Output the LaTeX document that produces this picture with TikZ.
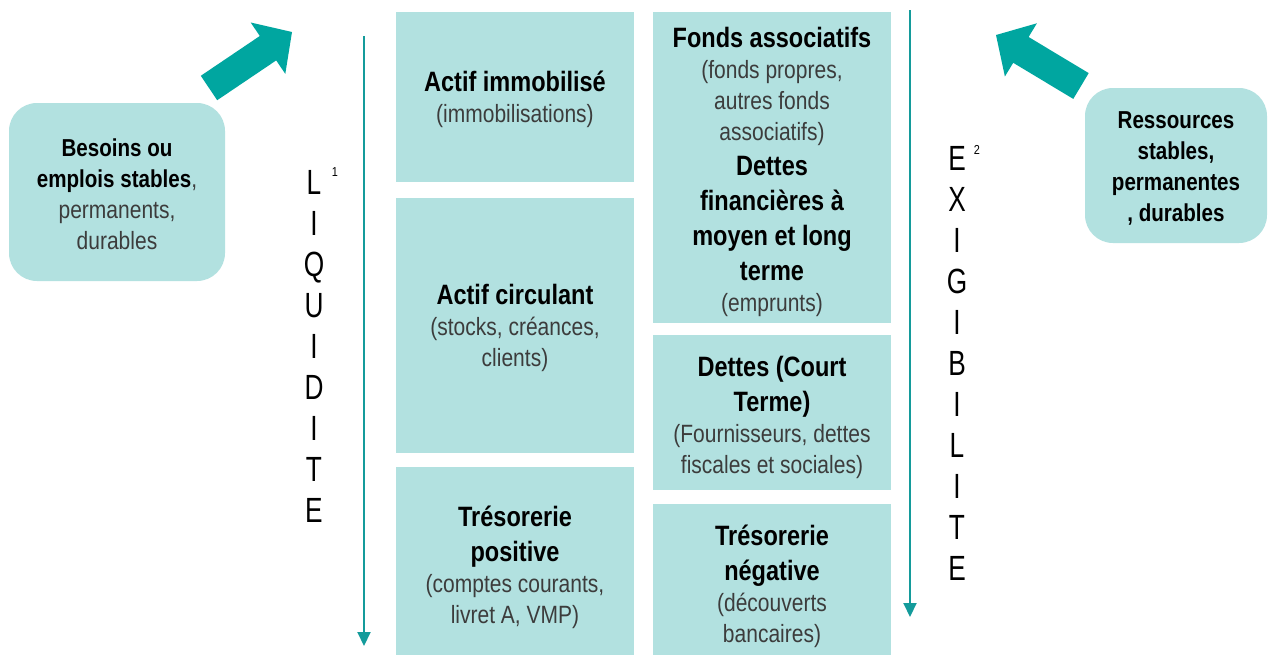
\documentclass[tikz,border=0pt]{standalone}
\usepackage{fontspec}
\setmainfont{Liberation Sans}
\newfontfamily\cond[FakeStretch=0.84]{Liberation Sans}
\newfontfamily\condL[FakeStretch=0.75]{Liberation Sans}
\usetikzlibrary{arrows.meta}
\definecolor{tealA}{RGB}{0,166,160}
\definecolor{tealL}{RGB}{20,155,155}
\definecolor{boxfill}{RGB}{178,225,224}
\definecolor{txtgray}{RGB}{60,60,60}
\newcommand{\BB}{\fontsize{28}{35}\selectfont\bfseries\color{black}}
\newcommand{\RR}{\fontsize{25}{31}\selectfont\mdseries\color{txtgray}}
\newcommand{\Bs}{\fontsize{24.5}{31}\selectfont\bfseries\color{black}}
\newcommand{\boxtxt}[3][7pt]{\parbox{#2}{\vspace*{#1}\centering\cond #3\par}}
\tikzset{
  blk/.style={fill=boxfill, inner sep=0pt, minimum width=238pt},
  rbox/.style={fill=boxfill, inner sep=0pt, rounded corners=28pt},
  vline/.style={draw=tealL, line width=2pt, -{Triangle[width=13pt,length=14pt]}},
  letters/.style={font=\condL\fontsize{35}{41}\selectfont, align=center, inner sep=0pt, text=black},
  supnum/.style={font=\cond\fontsize{13}{15}\selectfont, inner sep=0pt, text=black},
  bigarrow/.style={fill=tealA}
}
\begin{document}
\begin{tikzpicture}[x=1pt,y=-1pt]
\useasboundingbox (0,0) rectangle (1278,654);
\clip (0,0) rectangle (1278,654);
\fill[white] (0,0) rectangle (1278,654);

% left column
\node[blk, minimum height=170pt] (ai) at (515,97)
  {\boxtxt[5pt]{230pt}{\BB Actif immobilisé\\ \RR (immobilisations)}};
\node[blk, minimum height=255pt] (ac) at (515,325.5)
  {\boxtxt[4pt]{230pt}{\BB Actif circulant\\ \RR (stocks, créances,\\ clients)}};
\node[blk, minimum height=195pt] (tp) at (515,564.5)
  {\boxtxt[6pt]{230pt}{\BB Trésorerie\\ positive\\ \RR (comptes courants,\\ livret A, VMP)}};

% right column
\node[blk, minimum height=311pt] (fa) at (772,167.5)
  {\boxtxt[8pt]{230pt}{\BB Fonds associatifs\\ \RR (fonds propres,\\ autres fonds\\ associatifs)\\ \BB Dettes\\ financières à\\ moyen et long\\ terme\\ \RR (emprunts)}};
\node[blk, minimum height=155pt] (dct) at (772,412.5)
  {\boxtxt[10pt]{230pt}{\BB Dettes (Court\\ Terme)\\ \RR (Fournisseurs, dettes\\ fiscales et sociales)}};
\node[blk, minimum height=158pt] (tn) at (772,583)
  {\boxtxt[6pt]{230pt}{\BB Trésorerie\\ négative\\ \RR (découverts\\ bancaires)}};

% side rounded boxes
\node[rbox, minimum width=216pt, minimum height=178pt] (bes) at (117,192)
  {\boxtxt[4pt]{205pt}{\Bs Besoins ou\\ emplois stables\RR,\\ permanents,\\ durables}};
\node[rbox, minimum width=182pt, minimum height=155pt] (res) at (1176,165.5)
  {\boxtxt[5pt]{175pt}{\Bs Ressources\\ stables,\\ permanentes\\ , durables}};

% block arrows
\fill[bigarrow] (200.8,75.8) -- (259.8,36.0) -- (250.7,22.5) -- (292,32)
  -- (285.3,73.9) -- (276.2,60.4) -- (217.2,100.2) -- cycle;
\fill[bigarrow] (1088.7,73.1) -- (1028.6,37.0) -- (1036.9,23.3) -- (996,35)
  -- (1004.9,76.5) -- (1013.2,62.8) -- (1073.3,98.9) -- cycle;

% vertical arrows
\coordinate (lt) at (364,36);
\coordinate (lb) at (364,646);
\draw[vline] (lt) -- (lb);
\coordinate (rt) at (910,10);
\coordinate (rb) at (910,617);
\draw[vline] (rt) -- (rb);

% vertical words
\node[letters] (liq) at (314,346.5) {L\\I\\Q\\U\\I\\D\\I\\T\\E};
\node[supnum] (s1) at (335,172) {1};
\node[letters] (exi) at (957,363) {E\\X\\I\\G\\I\\B\\I\\L\\I\\T\\E};
\node[supnum] (s2) at (977,150) {2};
\end{tikzpicture}
\end{document}
